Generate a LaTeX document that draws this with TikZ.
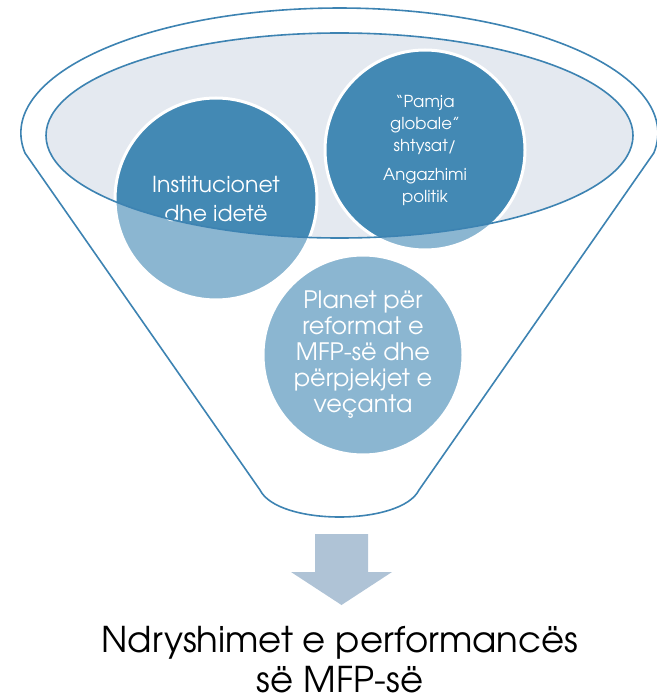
\documentclass[tikz,border=0pt]{standalone}
\usepackage{fontspec}
\setmainfont{TeX Gyre Adventor}
\usepackage{xcolor}
\usepackage{tikz}
\usetikzlibrary{positioning}

\definecolor{funnelblue}{RGB}{61,131,178}
\definecolor{darkbubble}{RGB}{67,137,180}
\definecolor{lightbubble}{RGB}{139,182,209}
\definecolor{rimfill}{RGB}{228,233,240}
\definecolor{arrowgray}{RGB}{175,195,214}

\begin{document}
\begin{tikzpicture}[
    x=1pt, y=-1pt,
    funnelline/.style={draw=funnelblue, line width=1.6pt},
    bubble/.style={circle, draw=white, line width=3pt, fill=lightbubble, text=white, align=center, inner sep=0pt,
        path picture={\fill[darkbubble] (top) ellipse [x radius=293.5pt, y radius=102.5pt];}},
    result/.style={align=center, text=black, font=\fontsize{35.5}{40}\selectfont}
]
    \useasboundingbox (0,0) rectangle (656,695);
    \coordinate (top) at (339.5,135.5);

    % Funnel body and rim
    \draw[funnelline, fill=white] (25,153) arc[start angle=170.8, end angle=369.2, x radius=318.5, y radius=125]
        -- (419,490) .. controls (401,526) and (278,526) .. (260,490) -- cycle;
    \fill[rimfill] (top) ellipse [x radius=293.5, y radius=102.5];

    \node[bubble, minimum size=202pt, font=\fontsize{22}{29}\selectfont] (inst) at (216,199) {Institucionet\\dhe idetë};
    \node[bubble, minimum size=200pt, font=\fontsize{16.5}{22}\selectfont] (view) at (425,150) {“Pamja\\globale”\\shtysat/\\[7pt]Angazhimi\\politik};
    \node[bubble, minimum size=200pt, font=\fontsize{24}{26}\selectfont] (plans) at (363,355) {Planet për\\reformat e\\MFP-së dhe\\përpjekjet e\\veçanta};

    \draw[funnelline] (top) ellipse [x radius=293.5, y radius=102.5];

    % Output
    \fill[arrowgray] (315,534) -- (368,534) -- (368,572) -- (392,572) -- (341.5,605) -- (291,572) -- (315,572) -- cycle;
    \node[result, anchor=north] (change) at (340,623) {Ndryshimet e performancës\\së MFP-së};

\end{tikzpicture}
\end{document}
